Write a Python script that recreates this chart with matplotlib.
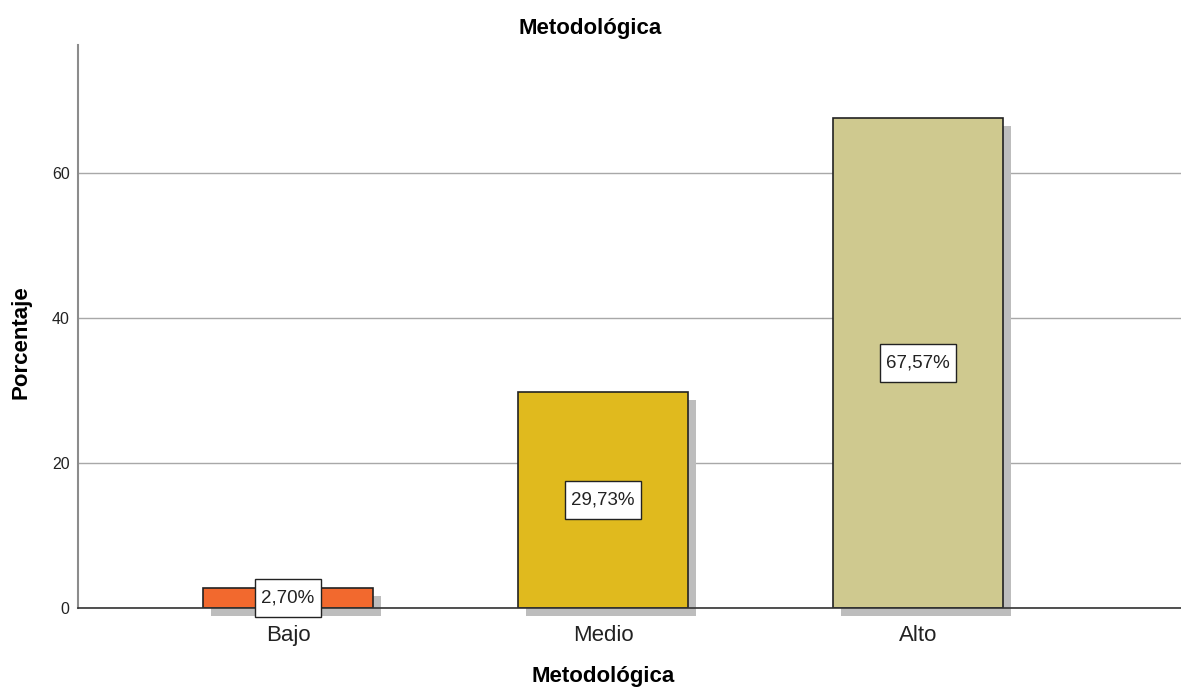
import matplotlib.pyplot as plt
from matplotlib.path import Path
from matplotlib.transforms import ScaledTranslation

plt.rcParams['font.family'] = ['Liberation Sans', 'DejaVu Sans']

categories = ['Bajo', 'Medio', 'Alto']
values = [2.70, 29.73, 67.57]
labels = ['2,70%', '29,73%', '67,57%']
colors = ['#F2692E', '#E0BA1E', '#CFC98F']


# caja de etiqueta: más relleno vertical que horizontal
def label_box(x0, y0, width, height, mutation_size):
    px = 0.33 * mutation_size
    py = 0.55 * mutation_size
    x0, y0 = x0 - px, y0 - py
    x1, y1 = x0 + width + 2 * px, y0 + height + 2 * py
    return Path([(x0, y0), (x1, y0), (x1, y1), (x0, y1), (x0, y0)], closed=True)


fig = plt.figure(figsize=(11.81, 6.91), dpi=100)
ax = fig.add_axes([0.066, 0.120, 0.934, 0.815])

x = list(range(len(categories)))
width = 0.54

# sombra
shadow = ax.transData + ScaledTranslation(8 / 100, -8 / 100, fig.dpi_scale_trans)
ax.bar(x, values, width=width, color='#BDBDBD', transform=shadow, clip_on=False, zorder=2)
ax.bar(x, values, width=width, color=colors, edgecolor='#222222', linewidth=1.2, zorder=3)

for xi, v, lab in zip(x, values, labels):
    ax.text(xi, v / 2, lab, ha='center', va='center', fontsize=13.5, color='#222222', zorder=5,
            bbox=dict(boxstyle=label_box, facecolor='white', edgecolor='#222222', linewidth=1.0))

ax.set_xlim(-0.667, 2.835)
ax.set_ylim(0, 77.6)
ax.set_yticks([0, 20, 40, 60])
ax.set_xticks(x)
ax.set_xticklabels(categories, fontsize=16, color='#222222')
ax.tick_params(axis='both', length=0)
ax.tick_params(axis='y', labelsize=11.5, colors='#222222', pad=6)
ax.tick_params(axis='x', pad=12)
ax.yaxis.grid(True, color='#A8A8A8', linewidth=1.0, zorder=0)
ax.set_axisbelow(True)

for s in ['top', 'right']:
    ax.spines[s].set_visible(False)
ax.spines['left'].set_color('#8C8C8C')
ax.spines['left'].set_linewidth(1.5)
ax.spines['bottom'].set_color('#333333')
ax.spines['bottom'].set_linewidth(1.2)
ax.spines['bottom'].set_zorder(4)

fig.text(0.5, 0.959, 'Metodológica', ha='center', va='center', fontsize=16, fontweight='bold')
ax.text(1, -0.122, 'Metodológica', transform=ax.get_xaxis_transform(), ha='center', va='center',
        fontsize=16, fontweight='bold')
ax.set_ylabel('Porcentaje', fontsize=16, fontweight='bold')
ax.yaxis.set_label_coords(-0.0417, 0.472)

fig.savefig('out.png', dpi=100)
